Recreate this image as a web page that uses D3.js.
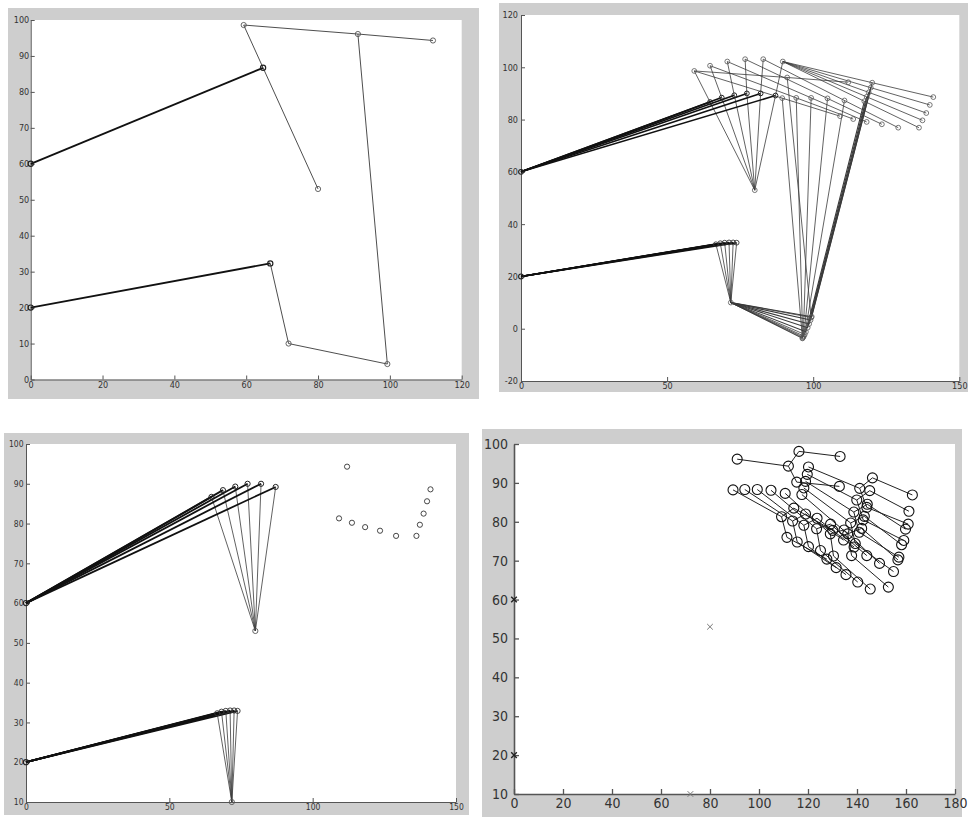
<!DOCTYPE html>
<html><head><meta charset="utf-8">
<script src="https://cdn.jsdelivr.net/npm/d3@7"></script>
<style>body{margin:0;background:#fff}svg{display:block}</style>
</head><body>
<svg id="c" width="968" height="817"></svg>
<script>
// ---------------- data ----------------
const baseUpper = [0, 60];
const baseLower = [0, 20];
const footUpper = [80, 53];
const footLower = [71.8, 10];
const topA = [[59.3,98.6],[64.7,100.6],[70.6,102.2],[76.7,103.1],[82.9,103.1],[89.6,102.2]];
const kneeUpper = [[64.7,86.7],[68.7,88.4],[73.0,89.3],[77.3,90.0],[82.0,90.0],[87.1,89.2]];
const kneeLower = [[66.7,32.3],[68.2,32.7],[69.7,32.9],[71.2,33.0],[72.6,33.0],[73.8,32.9]];
const legIndex = [0,0,1,2,3,4,5,5,5,5,5];
const bodyB = [[91.1,96.1],[89.4,88.2],[94.2,88.3],[99.3,88.3],[104.9,88.1],[110.7,87.3],[117.5,87.0],[118.3,88.7],[119.0,90.4],[119.7,92.2],[120.2,94.1]];
const bodyC = [[112.0,94.3],[109.2,81.3],[113.7,80.2],[118.3,79.1],[123.5,78.2],[129.1,76.9],[136.2,76.9],[137.4,79.7],[138.7,82.5],[139.9,85.6],[141.1,88.6]];
const footD = [[99.3,4.3],[96.3,-3.7],[96.4,-3.5],[96.6,-3.2],[96.8,-2.8],[97.1,-2.2],[97.5,-1.2],[98.1,0.4],[98.6,1.8],[99.1,3.3],[99.5,4.6]];
const legUpE = [[116.3,98.1],[114.2,83.5],[119.0,82.0],[123.7,80.9],[129.2,79.4],[134.7,77.9],[141.9,78.3],[143.0,81.4],[144.2,84.5],[145.2,88.0],[146.3,91.3]];
const legUpG = [[133.1,96.8],[130.1,77.8],[134.5,75.3],[138.8,73.5],[144.0,71.3],[149.2,69.3],[156.7,70.2],[158.2,74.1],[159.8,78.1],[161.2,82.7],[162.6,86.9]];
const legDnE = [[115.4,90.2],[111.4,76.0],[115.6,74.8],[120.2,73.6],[125.1,72.6],[130.4,71.2],[137.8,71.3],[139.3,74.4],[140.9,77.3],[142.5,80.5],[144.0,83.7]];
const legDnG = [[132.8,89.1],[127.7,70.4],[131.5,68.2],[135.5,66.4],[140.3,64.5],[145.4,62.7],[152.8,63.2],[154.9,67.2],[157.1,70.9],[159.1,75.2],[160.9,79.4]];
const fixedMarks = [[0,60],[0,20],[80,53],[72,10]];

const ticks1X = [0,20,40,60,80,100,120];
const ticks1Y = [0,10,20,30,40,50,60,70,80,90,100];
const ticks2X = [0,50,100,150];
const ticks2Y = [-20,0,20,40,60,80,100,120];
const ticks3X = [0,50,100,150];
const ticks3Y = [10,20,30,40,50,60,70,80,90,100];
const ticks4X = [0,20,40,60,80,100,120,140,160,180];
const ticks4Y = [10,20,30,40,50,60,70,80,90,100];

// ---------------- drawing ----------------
const svg = d3.select("#c");
const GRAY = "#cecece";
const FONT = "'Liberation Sans Narrow','DejaVu Sans Condensed','Liberation Sans',Arial,sans-serif";

function panel(cfg){
  const g = svg.append("g");
  g.append("rect").attr("x",cfg.box[0]).attr("y",cfg.box[1])
    .attr("width",cfg.box[2]-cfg.box[0]).attr("height",cfg.box[3]-cfg.box[1]).attr("fill",GRAY);
  const [L,T,R,B] = cfg.plot;
  g.append("rect").attr("x",L).attr("y",T).attr("width",R-L).attr("height",B-T).attr("fill","#fff");
  const x = d3.scaleLinear().domain(cfg.xd).range([L,R]);
  const y = d3.scaleLinear().domain(cfg.yd).range([B,T]);
  const ax = g.append("g").attr("transform",`translate(0,${B})`)
    .call(d3.axisBottom(x).tickValues(cfg.xt).tickSizeInner(-cfg.tl).tickSizeOuter(0).tickPadding(cfg.xpad).tickFormat(d3.format("d")));
  const ay = g.append("g").attr("transform",`translate(${L},0)`)
    .call(d3.axisLeft(y).tickValues(cfg.yt).tickSizeInner(-cfg.tl).tickSizeOuter(0).tickPadding(cfg.ypad).tickFormat(d=>d<0?"-"+Math.abs(d):String(d)));
  [ax,ay].forEach(a=>{
    a.attr("font-family",FONT).attr("font-size",cfg.fs).attr("color",cfg.axisColor);
    a.select(".domain").attr("stroke-width",cfg.aw);
    a.selectAll(".tick line").attr("stroke-width",cfg.tw);
    a.selectAll("text").attr("fill",cfg.textColor);
  });
  const layer = g.append("g");
  return {g:layer,x,y};
}

const line = (p) => d3.line().x(d=>p.x(d[0])).y(d=>p.y(d[1]));
function path(p, pts, stroke, w){
  p.g.append("path").attr("d", line(p)(pts)).attr("fill","none")
    .attr("stroke",stroke).attr("stroke-width",w).attr("stroke-linejoin","round");
}
function circles(p, pts, r, stroke, w){
  p.g.selectAll(null).data(pts).enter().append("circle")
    .attr("cx",d=>p.x(d[0])).attr("cy",d=>p.y(d[1])).attr("r",r)
    .attr("fill","none").attr("stroke",stroke).attr("stroke-width",w);
}

const THIN = "#3a3a3a", THICK = "#111", MARK = "#555";

// Panel 1 : first configuration
const p1 = panel({box:[8,8,479,399], plot:[30.7,20,461.7,379.5], xd:[0,120], yd:[0,100],
  xt:ticks1X, yt:ticks1Y, tl:4, xpad:2, ypad:1.5, fs:9, aw:1, tw:1, axisColor:"#555", textColor:"#333"});
{
  const f=0, a=0;
  path(p1,[baseUpper,kneeUpper[a]],THICK,1.8);
  path(p1,[baseLower,kneeLower[a]],THICK,1.8);
  path(p1,[topA[a],kneeUpper[a],footUpper],THIN,0.9);
  path(p1,[topA[a],bodyB[f],bodyC[f]],THIN,0.9);
  path(p1,[kneeLower[a],footLower,footD[f],bodyB[f]],THIN,0.9);
  circles(p1,[baseUpper,baseLower,kneeUpper[a],kneeLower[a]],2.6,"#222",1.2);
  circles(p1,[topA[a],footUpper,bodyB[f],bodyC[f],footLower,footD[f]],2.6,MARK,0.9);
}

// Panel 2 : all configurations
const p2 = panel({box:[499,3,968,392], plot:[521,15,959.3,381], xd:[0,150], yd:[-20,120],
  xt:ticks2X, yt:ticks2Y, tl:4, xpad:2, ypad:3, fs:9, aw:1, tw:1, axisColor:"#555", textColor:"#333"});
for(let a=0;a<6;a++){
  path(p2,[baseUpper,kneeUpper[a]],THICK,1.6);
  path(p2,[baseLower,kneeLower[a]],THICK,1.6);
  path(p2,[topA[a],kneeUpper[a],footUpper],THIN,0.8);
  path(p2,[kneeLower[a],footLower],THIN,0.8);
}
bodyB.forEach((b,f)=>{
  const a = legIndex[f];
  path(p2,[topA[a],b,bodyC[f]],THIN,0.8);
  path(p2,[footLower,footD[f],b],THIN,f>=6?1.1:0.8);
});
circles(p2,[baseUpper,baseLower],2.4,"#222",1.1);
circles(p2,kneeUpper,2.4,"#222",1);
circles(p2,kneeLower,2.4,"#333",0.9);
circles(p2,topA,2.4,MARK,0.8);
circles(p2,bodyB,2.4,MARK,0.8);
circles(p2,bodyC,2.4,MARK,0.8);
circles(p2,footD,2.4,MARK,0.8);
circles(p2,[footUpper,footLower],2.4,MARK,0.8);

// Panel 3 : legs + body end points
const p3 = panel({box:[4,433,469,815], plot:[26,444,456,802], xd:[0,150], yd:[10,100],
  xt:ticks3X, yt:ticks3Y, tl:4, xpad:2, ypad:2.5, fs:8.5, aw:1, tw:1, axisColor:"#555", textColor:"#333"});
for(let a=0;a<6;a++){
  path(p3,[baseUpper,kneeUpper[a]],THICK,1.8);
  path(p3,[baseLower,kneeLower[a]],THICK,1.8);
  path(p3,[kneeUpper[a],footUpper],THIN,0.8);
  path(p3,[kneeLower[a],footLower],THIN,0.8);
}
circles(p3,[baseUpper,baseLower],2.6,"#222",1.1);
circles(p3,kneeUpper,2.6,"#222",1);
circles(p3,kneeLower,2.6,"#333",0.9);
circles(p3,[footUpper,footLower],2.6,MARK,0.9);
circles(p3,bodyC,2.6,"#333",0.9);

// Panel 4 : body with front legs
const p4 = panel({box:[482,429,962,817], plot:[514,444,955,794], xd:[0,180], yd:[10,100],
  xt:ticks4X, yt:ticks4Y, tl:5, xpad:4, ypad:6, fs:14, aw:1.6, tw:1.3, axisColor:"#555", textColor:"#333"});
fixedMarks.forEach(d=>{
  const cx=p4.x(d[0]), cy=p4.y(d[1]), s=2.8;
  p4.g.append("path").attr("d",`M${cx-s},${cy-s}L${cx+s},${cy+s}M${cx-s},${cy+s}L${cx+s},${cy-s}`)
    .attr("stroke",d[0]===0?"#222":"#777").attr("stroke-width",d[0]===0?1.4:1);
});
bodyB.forEach((b,f)=>{
  path(p4,[b,bodyC[f],legUpE[f],legUpG[f]],"#222",1);
  path(p4,[bodyC[f],legDnE[f],legDnG[f]],"#222",1);
});
bodyB.forEach((b,f)=>{
  circles(p4,[b,bodyC[f],legUpE[f],legUpG[f],legDnE[f],legDnG[f]],5,"#111",1.1);
});
</script>
</body></html>
